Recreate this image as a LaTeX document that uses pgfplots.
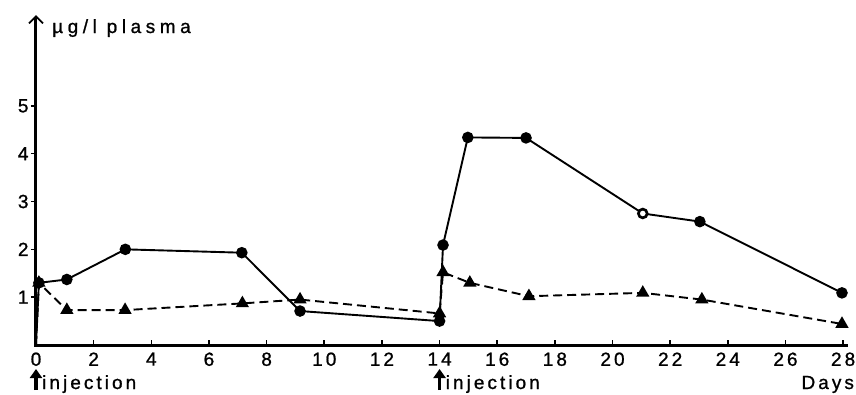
\documentclass[border=0pt]{standalone}
\usepackage{pgfplots}
\pgfplotsset{compat=1.18}
\usepackage{fontspec}
\setmainfont{Liberation Sans}
\newfontfamily\spaced[LetterSpace=16,FakeBold=1]{Liberation Sans}
\newfontfamily\wide[LetterSpace=24,FakeBold=1]{Liberation Sans}
\usetikzlibrary{arrows.meta}
\begin{document}
\begin{tikzpicture}
\begin{axis}[at={(0,0)}, anchor=south west, scale only axis,
  width=810pt, height=330pt,
  xmin=0, xmax=28.1, ymin=0, ymax=6.9,
  axis lines=left,
  axis line style={draw=none},
  xtick={0,2,...,28}, ytick={1,2,3,4,5},
  tick align=inside, major tick length=5pt,
  tick style={line width=1.6pt, black},
  y tick style={xshift=-5pt},
  clip=false,
  /pgf/number format/assume math mode=true,
  ticklabel style={font=\spaced\fontsize{19}{19}\selectfont},
  xticklabel style={yshift=-4pt},
  yticklabel style={xshift=-4pt},
]
\draw[line width=3pt, black] ([xshift=-1.5pt]rel axis cs:0,0) -- ([xshift=2pt]rel axis cs:1,0);
\draw[line width=3pt, black, -{Straight Barb[length=7pt,width=14pt,line width=1.8pt]}] (rel axis cs:0,0) -- (rel axis cs:0,1);
\addplot[black, line width=1.9pt, mark=*, mark size=4.8pt, mark phase=2, mark options={solid, fill=black}]
 coordinates {(0,0) (0.1,1.3) (1.07,1.37) (3.1,2.0) (7.14,1.93) (9.16,0.71) (14.0,0.5) (14.12,2.09) (14.98,4.34) (17.0,4.33) (21.05,2.75) (23.03,2.58) (27.96,1.09)};
\addplot[only marks, mark=*, mark size=3.8pt, mark options={fill=white, line width=1.6pt}]
 coordinates {(21.05,2.75)};
\addplot[black, line width=1.9pt, dash pattern=on 9pt off 5pt, mark=triangle*, mark size=5.8pt, mark phase=2, mark options={solid, fill=black}]
 coordinates {(0,0) (0.1,1.3) (1.07,0.73) (3.09,0.73) (7.16,0.87) (9.16,0.95) (14.0,0.66) (14.12,1.52) (15.05,1.3) (17.1,1.02) (21.05,1.09) (23.1,0.95) (27.96,0.44)};
\draw[line width=3.5pt, -{Triangle[length=9pt,width=12pt]}] ([yshift=-45pt]axis cs:0,0) -- ([yshift=-24pt]axis cs:0,0);
\draw[line width=3.5pt, -{Triangle[length=9pt,width=12pt]}] ([yshift=-45pt]axis cs:14,0) -- ([yshift=-24pt]axis cs:14,0);
\node[anchor=base west, inner sep=0pt, font=\spaced\fontsize{19}{19}\selectfont] at ([xshift=6pt,yshift=-44pt]axis cs:0,0) {injection};
\node[anchor=base west, inner sep=0pt, font=\spaced\fontsize{19}{19}\selectfont] at ([xshift=6pt,yshift=-44pt]axis cs:14,0) {injection};
\node[anchor=base east, inner sep=0pt, font=\spaced\fontsize{19}{19}\selectfont] at ([xshift=11pt,yshift=-44pt]axis cs:28,0) {Days};
\node[anchor=base west, inner sep=0pt, font=\wide\fontsize{19}{19}\selectfont] at ([xshift=16pt,yshift=-18pt]rel axis cs:0,1) {µg/l plasma};
\end{axis}
\pgfresetboundingbox
\path (-36pt,-49pt) rectangle (820pt,345pt);
\end{tikzpicture}
\end{document}
